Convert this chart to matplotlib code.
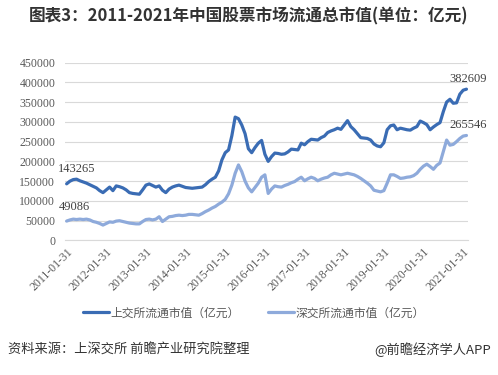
import numpy as np
import matplotlib.pyplot as plt
import matplotlib.transforms as mtransforms
from matplotlib.ticker import FuncFormatter

# monthly circulating market value, 2011-01 .. 2021-02 (unit: 亿元)
sh_values = [143265, 150000, 154000, 155000, 151000, 148000, 145000, 141000, 137000, 133000,
             126000, 121000, 128000, 135000, 126000, 138000, 136000, 133000, 128000, 121000,
             119000, 118000, 117000, 128000, 140000, 143000, 139000, 135000, 138000, 127000,
             121000, 130000, 135000, 138000, 140000, 137000, 134000, 133000, 132000, 133000,
             134000, 135000, 141000, 149000, 155000, 160000, 176000, 204000, 222000, 229000,
             265000, 312000, 308000, 292000, 270000, 232000, 222000, 235000, 246000, 253000,
             218000, 200000, 212000, 221000, 220000, 218000, 219000, 224000, 231000, 230000,
             229000, 246000, 242000, 250000, 256000, 255000, 254000, 260000, 264000, 273000,
             277000, 280000, 284000, 281000, 292000, 303000, 288000, 280000, 270000, 260000,
             259000, 258000, 254000, 244000, 239000, 237000, 247000, 280000, 290000, 292000,
             280000, 284000, 282000, 280000, 279000, 284000, 288000, 302000, 298000, 293000,
             280000, 287000, 293000, 298000, 326000, 350000, 357000, 347000, 348000, 370000,
             380000, 382609]
sz_values = [49086, 52000, 54000, 53000, 54000, 53000, 54000, 52000, 48000, 46000,
             43000, 39000, 43000, 47000, 46000, 49000, 50000, 48000, 46000, 44000,
             43000, 42000, 42000, 48000, 53000, 54000, 52000, 54000, 60000, 48000,
             54000, 60000, 61000, 63000, 64000, 63000, 64000, 66000, 66000, 65000,
             64000, 68000, 73000, 77000, 82000, 86000, 92000, 97000, 104000, 118000,
             140000, 170000, 191000, 174000, 150000, 133000, 123000, 134000, 145000, 160000,
             166000, 119000, 130000, 138000, 136000, 135000, 139000, 142000, 146000, 149000,
             155000, 160000, 151000, 156000, 160000, 157000, 151000, 155000, 158000, 160000,
             166000, 170000, 168000, 166000, 168000, 170000, 168000, 166000, 162000, 157000,
             151000, 145000, 138000, 127000, 125000, 123000, 126000, 145000, 166000, 166000,
             162000, 157000, 158000, 160000, 161000, 164000, 170000, 180000, 188000, 193000,
             187000, 180000, 190000, 196000, 225000, 254000, 241000, 243000, 250000, 258000,
             264000, 265546]
tick_labels = ['2011-01-31', '2012-01-31', '2013-01-31', '2014-01-31', '2015-01-31',
               '2016-01-31', '2017-01-31', '2018-01-31', '2019-01-31', '2020-01-31',
               '2021-01-31']
sh_name = '上交所流通市值（亿元）'
sz_name = '深交所流通市值（亿元）'

cjk = ['Noto Sans CJK SC', 'DejaVu Sans']
serif = 'Liberation Serif'

x = np.arange(len(sh_values))

fig = plt.figure(figsize=(4.98, 3.75), dpi=100)
ax = fig.add_axes([0.1305, 0.3587, 0.8095, 0.4746])

ax.plot(x, sh_values, color='#3a6cb4', lw=2.3, label=sh_name, solid_capstyle='round')
ax.plot(x, sz_values, color='#8eaadb', lw=2.3, label=sz_name, solid_capstyle='round')

ax.set_xlim(-0.5, len(x) - 0.5)
ax.set_ylim(0, 450000)
ax.set_yticks(np.arange(0, 450001, 50000))
ax.yaxis.set_major_formatter(FuncFormatter(lambda v, p: f'{int(v)}'))
ax.set_xticks(np.arange(0, len(x), 12))
ax.set_xticklabels(tick_labels, rotation=45, ha='right', rotation_mode='anchor')

# excel puts the rotated labels a little to the right of the category
shift = mtransforms.ScaledTranslation(5 / 100, 0, fig.dpi_scale_trans)
for lab in ax.get_xticklabels():
    lab.set_transform(lab.get_transform() + shift)

for lab in ax.get_xticklabels() + ax.get_yticklabels():
    lab.set_family(serif)
    lab.set_fontsize(8.5)
    lab.set_color('#595959')
ax.tick_params(axis='both', length=0)
ax.tick_params(axis='y', pad=7)
ax.tick_params(axis='x', pad=4)

ax.grid(axis='y', color='#d9d9d9', lw=0.8)
ax.set_axisbelow(True)
for s in ['top', 'right', 'left']:
    ax.spines[s].set_visible(False)
ax.spines['bottom'].set_color('#d9d9d9')
ax.spines['bottom'].set_linewidth(0.8)

# end point labels
ax.annotate(f'{sh_values[0]}', (x[0], sh_values[0]), xytext=(-6, 6), textcoords='offset points',
            fontsize=9, family=serif, color='#404040', va='bottom')
ax.annotate(f'{sz_values[0]}', (x[0], sz_values[0]), xytext=(-6, 6), textcoords='offset points',
            fontsize=9, family=serif, color='#404040', va='bottom')
ax.annotate(f'{sh_values[-1]}', (x[-1], sh_values[-1]), xytext=(-12, 3), textcoords='offset points',
            fontsize=9, family=serif, color='#404040', va='bottom')
ax.annotate(f'{sz_values[-1]}', (x[-1], sz_values[-1]), xytext=(-12, 3), textcoords='offset points',
            fontsize=9, family=serif, color='#404040', va='bottom')

fig.text(0.5, 0.957, '图表3：2011-2021年中国股票市场流通总市值(单位：亿元)',
         ha='center', va='center', fontsize=12, fontweight='bold', family=cjk, color='#333333')

leg = fig.legend(loc='center', bbox_to_anchor=(0.51, 0.165), ncol=2, frameon=False,
                 handlelength=2.2, columnspacing=2.4, handletextpad=0.1,
                 prop={'family': cjk, 'size': 8.5})
for t in leg.get_texts():
    t.set_color('#595959')

fig.text(0.016, 0.067, '资料来源：上深交所 前瞻产业研究院整理', ha='left', va='center',
         fontsize=9.5, family=cjk, color='#333333')
fig.text(0.985, 0.067, '@前瞻经济学人APP', ha='right', va='center',
         fontsize=9.5, family=cjk, color='#333333')

fig.savefig('out.png', dpi=100)
